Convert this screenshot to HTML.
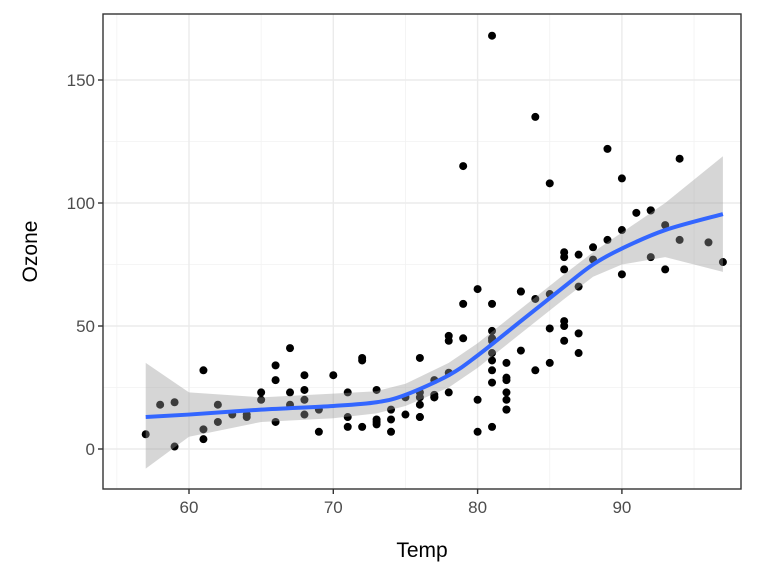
<!DOCTYPE html>
<html><head><meta charset="utf-8"><style>
body{margin:0;background:#fff}
svg{display:block;font-family:"Liberation Sans",sans-serif}
</style></head><body>
<svg id="s" width="768" height="576" viewBox="0 0 768 576"></svg>
<script>
const oz=[41,36,12,18,null,28,23,19,8,null,7,16,11,14,18,14,34,6,30,11,1,11,4,32,null,null,null,23,45,115,37,null,null,null,null,null,null,29,null,71,39,null,null,23,null,null,21,37,20,12,13,null,null,null,null,null,null,null,null,null,null,135,49,32,null,64,40,77,97,97,85,null,10,27,null,7,48,35,61,79,63,16,null,null,80,108,20,52,82,50,64,59,39,9,16,78,35,66,122,89,110,null,null,44,28,65,null,22,59,23,31,44,21,9,null,45,168,73,null,76,118,84,85,96,78,73,91,47,32,20,23,21,24,44,21,28,9,13,46,18,13,24,16,13,23,36,7,14,30,null,14,18,20];
const tp=[67,72,74,62,56,66,65,59,61,69,74,69,66,68,58,64,66,57,68,62,59,73,61,61,57,58,57,67,81,79,76,78,74,67,84,85,79,82,87,90,87,93,92,82,80,79,77,72,65,73,76,77,76,76,76,75,78,73,80,77,83,84,85,81,84,83,83,88,92,92,89,82,73,81,91,80,81,82,84,87,85,74,81,82,86,85,82,86,88,86,83,81,81,81,82,86,85,87,89,90,90,92,86,86,82,80,79,77,79,76,78,78,77,72,75,79,81,86,88,97,94,96,94,91,92,93,93,87,84,80,78,75,73,81,76,77,71,71,78,67,76,68,82,64,71,81,69,63,70,77,75,76,68];
const X=t=>189+(t-60)*14.43, Y=o=>449-o*2.46;
const L=103,R=741,T=14,B=489;
let h='';
h+=`<rect x="${L}" y="${T}" width="${R-L}" height="${B-T}" fill="#fff"/>`;
for(const t of [55,65,75,85,95]){const x=X(t);if(x>L&&x<R)h+=`<line x1="${x}" x2="${x}" y1="${T}" y2="${B}" stroke="#f2f2f2" stroke-width="0.8"/>`}
for(const o of [25,75,125]){h+=`<line x1="${L}" x2="${R}" y1="${Y(o)}" y2="${Y(o)}" stroke="#f2f2f2" stroke-width="0.8"/>`}
for(const t of [60,70,80,90]){h+=`<line x1="${X(t)}" x2="${X(t)}" y1="${T}" y2="${B}" stroke="#ebebeb" stroke-width="1.4"/>`}
for(const o of [0,50,100,150]){h+=`<line x1="${L}" x2="${R}" y1="${Y(o)}" y2="${Y(o)}" stroke="#ebebeb" stroke-width="1.4"/>`}
const fit=[[57,13],[60,14],[65,16],[70,17.5],[73,19],[75,22],[78,30],[80,38],[83,52],[86,66],[88,75],[90,81.5],[93,89],[97,95.5]];
const lo=[[57,-8],[60,5],[65,11],[70,12.5],[73,14.5],[75,17.5],[78,25],[80,33],[83,47],[86,61],[88,70],[90,75],[93,78],[97,72]];
const hi=[[57,35],[60,23],[65,21],[70,22.5],[73,23.5],[75,26.5],[78,35],[80,43],[83,57],[86,71],[88,80],[90,88],[93,100],[97,119]];
for(let i=0;i<oz.length;i++){if(oz[i]==null)continue;h+=`<circle cx="${X(tp[i])}" cy="${Y(oz[i])}" r="4" fill="#000"/>`}
h+=`<path d="M${hi.map(p=>X(p[0])+','+Y(p[1])).join(' L')} L${lo.slice().reverse().map(p=>X(p[0])+','+Y(p[1])).join(' L')}Z" fill="#999" fill-opacity="0.4"/>`;
function smooth(pts){const P=pts.map(p=>[X(p[0]),Y(p[1])]);let d=`M${P[0]}`;for(let i=0;i<P.length-1;i++){const p0=P[i-1]||P[i],p1=P[i],p2=P[i+1],p3=P[i+2]||p2;const c1=[p1[0]+(p2[0]-p0[0])/6,p1[1]+(p2[1]-p0[1])/6],c2=[p2[0]-(p3[0]-p1[0])/6,p2[1]-(p3[1]-p1[1])/6];d+=` C${c1} ${c2} ${p2}`}return d}
h+=`<path d="${smooth(fit)}" fill="none" stroke="#3366FF" stroke-width="4"/>`;
h+=`<rect x="${L}" y="${T}" width="${R-L}" height="${B-T}" fill="none" stroke="#333" stroke-width="1.4"/>`;
for(const t of [60,70,80,90]){h+=`<line x1="${X(t)}" x2="${X(t)}" y1="${B}" y2="${B+5}" stroke="#333" stroke-width="1.4"/><text x="${X(t)}" y="${B+24}" font-size="17" fill="#4d4d4d" text-anchor="middle">${t}</text>`}
for(const o of [0,50,100,150]){h+=`<line x1="${L-5}" x2="${L}" y1="${Y(o)}" y2="${Y(o)}" stroke="#333" stroke-width="1.4"/><text x="${L-8}" y="${Y(o)+6}" font-size="17" fill="#4d4d4d" text-anchor="end">${o}</text>`}
h+=`<text x="${(L+R)/2}" y="557" font-size="21" text-anchor="middle" fill="#000">Temp</text>`;
h+=`<text transform="translate(37,${(T+B)/2}) rotate(-90)" font-size="21" text-anchor="middle" fill="#000">Ozone</text>`;
document.getElementById('s').innerHTML=h;
</script>
</body></html>
